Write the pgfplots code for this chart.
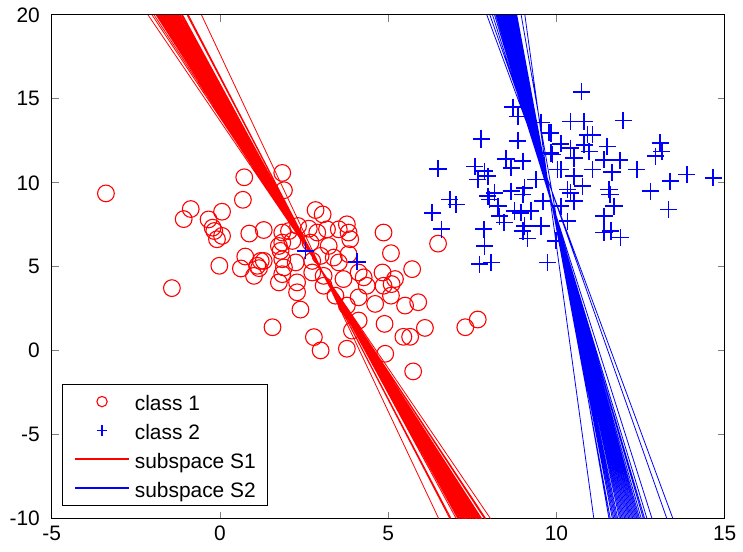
\documentclass[border=0pt]{standalone}
\usepackage{pgfplots}
\pgfplotsset{compat=1.18}
\usepackage{fontspec}
\setmainfont{Liberation Sans}

\definecolor{mred}{rgb}{1,0,0}
\definecolor{mblue}{rgb}{0,0,1}

\pgfplotsset{
    markleg/.style={legend image code/.code={\draw[##1,mark size=2.6pt] plot coordinates {(13.5pt,0pt)};}},
    lineleg/.style={legend image code/.code={\draw[##1,line width=1pt] (0pt,0pt) -- (27pt,0pt);}},
}

% class 1 / class 2 samples
\pgfplotstableread{
x y
-3.39 9.37
-1.43 3.73
0.72 10.33
0.68 8.99
-0.87 8.44
-1.08 7.84
0.06 8.28
-0.34 7.82
-0.22 7.33
-0.17 7.13
0.06 6.84
-0.09 6.64
0.87 6.98
0.75 5.61
-0.02 5.06
0.62 4.90
1.01 4.46
1.11 5.06
1.30 7.19
1.16 4.92
1.30 5.35
1.56 1.40
1.75 6.24
1.75 4.07
1.85 10.59
1.90 9.56
2.84 8.38
3.05 8.12
2.05 7.13
2.32 7.43
2.64 7.27
2.89 7.04
3.18 7.23
3.53 7.23
3.77 7.53
3.82 7.04
3.87 6.64
4.86 7.04
5.08 5.81
5.71 4.86
6.48 6.38
1.85 7.04
1.85 6.44
2.15 6.54
2.69 6.44
3.23 6.24
1.80 5.95
1.85 5.45
1.21 5.35
1.90 4.96
2.25 5.26
2.74 5.35
2.99 5.65
3.38 5.55
3.53 5.26
3.82 5.75
1.85 4.56
2.29 4.07
2.74 4.66
3.08 4.46
3.08 3.87
3.43 3.28
3.67 4.27
3.77 2.69
4.12 4.66
4.27 4.37
4.36 3.87
4.12 3.18
4.61 2.79
4.83 4.66
5.20 4.27
5.10 3.97
4.86 3.87
5.08 3.28
5.50 2.69
5.89 2.89
2.29 3.48
2.39 2.45
2.79 0.81
2.99 0.02
3.77 0.12
3.92 1.20
4.12 1.80
4.89 1.60
4.91 -0.18
5.45 0.83
5.65 0.83
6.09 1.36
5.74 -1.23
7.29 1.40
7.66 1.86
}\classone

\pgfplotstableread{
x y
10.74 15.43
11.98 13.71
10.42 13.65
10.82 13.65
8.70 14.51
8.85 13.95
9.54 13.59
7.76 12.61
8.85 12.51
9.78 13.00
10.13 12.33
10.92 12.86
11.07 12.86
10.82 12.27
10.42 12.07
11.51 12.17
10.97 11.87
13.08 12.37
13.13 11.87
12.94 11.58
6.48 10.83
7.57 10.98
7.86 10.69
8.50 11.42
9.00 11.28
8.65 10.89
9.88 11.68
10.52 11.48
11.41 11.38
11.88 11.34
10.03 10.79
10.13 10.79
11.07 10.79
11.65 10.63
12.39 10.79
13.87 10.49
14.66 10.30
13.38 10.10
7.66 10.20
7.96 10.39
9.39 10.20
10.52 10.39
10.77 9.80
10.33 9.60
10.42 9.41
11.56 9.60
11.59 9.31
12.79 9.50
7.96 9.21
8.16 9.41
8.01 9.01
8.65 9.50
9.05 9.70
9.00 9.31
9.59 8.91
10.13 8.61
10.52 8.91
11.71 8.61
13.33 8.42
11.41 8.02
6.83 9.01
7.02 8.71
6.31 8.22
8.26 8.61
8.31 8.02
8.75 8.32
8.94 8.22
9.24 8.32
8.45 7.63
9.05 7.43
9.00 7.13
9.54 7.43
10.33 7.72
9.14 6.68
11.41 7.04
11.61 7.13
11.90 6.74
6.58 7.23
7.84 7.23
7.86 6.24
7.71 5.16
8.06 5.26
9.73 5.26
9.98 6.54
9.83 12.97
9.83 11.78
2.54 5.96
4.07 5.29
}\classtwo

% fitted subspaces: one segment per line, from y=20 down to y=-10
\pgfplotstableread{
x y
-2.14 20
8.04 -10
nan nan
-2.02 20
7.90 -10
nan nan
-1.96 20
7.86 -10
nan nan
-1.90 20
7.78 -10
nan nan
-1.87 20
7.77 -10
nan nan
-1.84 20
7.75 -10
nan nan
-1.81 20
7.72 -10
nan nan
-1.79 20
7.70 -10
nan nan
-1.76 20
7.66 -10
nan nan
-1.74 20
7.64 -10
nan nan
-1.71 20
7.62 -10
nan nan
-1.69 20
7.60 -10
nan nan
-1.66 20
7.56 -10
nan nan
-1.64 20
7.55 -10
nan nan
-1.61 20
7.52 -10
nan nan
-1.59 20
7.50 -10
nan nan
-1.56 20
7.46 -10
nan nan
-1.54 20
7.44 -10
nan nan
-1.51 20
7.41 -10
nan nan
-1.49 20
7.40 -10
nan nan
-1.46 20
7.36 -10
nan nan
-1.44 20
7.34 -10
nan nan
-1.41 20
7.31 -10
nan nan
-1.39 20
7.30 -10
nan nan
-1.36 20
7.26 -10
nan nan
-1.34 20
7.24 -10
nan nan
-1.31 20
7.21 -10
nan nan
-1.28 20
7.18 -10
nan nan
-1.25 20
7.16 -10
nan nan
-1.22 20
7.12 -10
nan nan
-1.18 20
7.10 -10
nan nan
-1.14 20
7.07 -10
nan nan
-1.11 20
7.02 -10
nan nan
-0.98 20
6.87 -10
nan nan
-0.94 20
6.83 -10
nan nan
-0.55 20
6.50 -10
}\subone

\pgfplotstableread{
x y
7.93 20
13.46 -10
nan nan
8.02 20
13.28 -10
nan nan
8.10 20
12.84 -10
nan nan
8.16 20
12.69 -10
nan nan
8.20 20
12.62 -10
nan nan
8.23 20
12.58 -10
nan nan
8.26 20
12.52 -10
nan nan
8.29 20
12.47 -10
nan nan
8.31 20
12.43 -10
nan nan
8.34 20
12.39 -10
nan nan
8.36 20
12.35 -10
nan nan
8.39 20
12.31 -10
nan nan
8.41 20
12.27 -10
nan nan
8.44 20
12.23 -10
nan nan
8.46 20
12.19 -10
nan nan
8.49 20
12.15 -10
nan nan
8.51 20
12.11 -10
nan nan
8.54 20
12.07 -10
nan nan
8.56 20
12.03 -10
nan nan
8.59 20
11.99 -10
nan nan
8.61 20
11.95 -10
nan nan
8.64 20
11.91 -10
nan nan
8.66 20
11.87 -10
nan nan
8.69 20
11.82 -10
nan nan
8.71 20
11.78 -10
nan nan
8.74 20
11.74 -10
nan nan
8.76 20
11.70 -10
nan nan
8.79 20
11.66 -10
nan nan
8.82 20
11.60 -10
nan nan
8.95 20
11.56 -10
nan nan
9.06 20
11.11 -10
}\subtwo

\begin{document}
\begin{tikzpicture}
\begin{axis}[
    scale only axis,
    width=338pt,height=253pt,
    xmin=-5,xmax=15,ymin=-10,ymax=20,
    xtick={-5,0,...,15},ytick={-10,-5,...,20},
    tick align=inside,
    major tick length=3.5pt,
    axis line style={line width=0.5pt},
    tick style={line width=0.5pt},
    font=\fontsize{10.5}{12.6}\selectfont,
    tick label style={/pgf/number format/assume math mode=true},
    yticklabel style={xshift=-2.5pt},
    unbounded coords=jump,
    % reserve the same white margins round the box as the reference
    extra description/.code={
        \path (axis description cs:0,0) ++(-26pt,-16.5pt);
        \path (axis description cs:1,1) ++(7.5pt,7.5pt);
    },
    legend style={
        at={(axis description cs:0,0)},anchor=south west,
        xshift=5pt,yshift=6.5pt,
        draw=black,line width=0.5pt,
        inner xsep=6pt,inner ysep=3.8pt,
        row sep=5pt,column sep=2.5pt,
        nodes={inner sep=0pt,text height=9.2pt,text depth=0.3pt},
        cells={anchor=west},
    },
]
\addplot[only marks,mark=o,mark size=4.2pt,color=mred,line width=0.55pt,
    mark options={solid,fill=none},markleg]
    table {\classone};
\addlegendentry{class 1}
\addplot[only marks,mark=+,mark size=4.3pt,color=mblue,line width=0.85pt,
    mark options={solid},markleg]
    table {\classtwo};
\addlegendentry{class 2}
\addplot[color=mred,line width=0.4pt,lineleg] table {\subone};
\addlegendentry{subspace S1}
\addplot[color=mblue,line width=0.4pt,lineleg] table {\subtwo};
\addlegendentry{subspace S2}
\end{axis}
\end{tikzpicture}
\end{document}
